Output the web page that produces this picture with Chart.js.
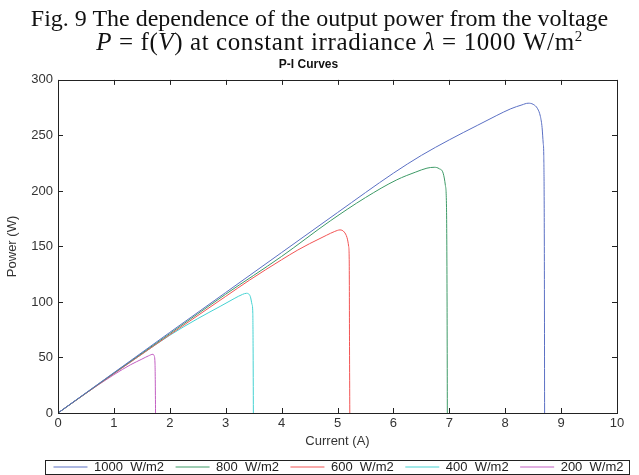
<!DOCTYPE html>
<html>
<head>
<meta charset="utf-8">
<script src="https://cdn.jsdelivr.net/npm/chart.js@4/dist/chart.umd.min.js"></script>
<style>
  body { margin: 0; background: #fff; }
  #wrap { position: relative; width: 639px; height: 475px; }
  #cap {
    position: absolute; top: 7px; left: 0; width: 639px;
    text-align: center; font: 24px "Liberation Serif", serif; line-height: 23px; color: #111;
  }
  #cap .l2 { display: block; font-size: 25px; letter-spacing: 0.6px; padding-left: 40px; }
  #cap .sup { font-size: 15px; position: relative; top: -9px; vertical-align: baseline; line-height: 0; }
  canvas { position: absolute; left: 0; top: 0; }
</style>
</head>
<body>
<div id="wrap">
  <canvas id="myChart" width="639" height="475"></canvas>
  <div id="cap">Fig. 9 The dependence of the output power from the voltage<span class="l2"><i>P</i> = f(<i>V</i>) at constant irradiance <i>λ</i> = 1000 W/m<span class="sup">2</span></span></div>
</div>
<script>
// values: current (A) and power (W) for each irradiance
let current1000 = [0, 1, 2, 3, 4, 5, 6, 6.5, 7, 7.5, 7.85, 8.1, 8.3, 8.41, 8.5, 8.58, 8.63, 8.66, 8.68, 8.69, 8.70, 8.705];
let power1000 = [0, 36.3, 72.6, 108.5, 144.5, 180.5, 216, 232, 246, 259, 268, 274, 277.5, 279, 278, 274, 267, 257, 243, 232, 150, 0];

let current800 = [0, 1, 2, 3, 4, 4.87, 5.5, 6.06, 6.4, 6.6, 6.73, 6.82, 6.89, 6.93, 6.95, 6.96, 6.965];
let power800 = [0, 36, 71.5, 107, 141, 173, 194, 210, 217, 220.5, 221.3, 220, 216, 205, 185, 100, 0];

let current600 = [0, 1, 2, 3, 3.43, 4, 4.29, 4.5, 4.8, 4.95, 5.045, 5.12, 5.17, 5.2, 5.21, 5.215, 5.22];
let power600 = [0, 35.5, 70.5, 105, 119.8, 138, 146.8, 152.5, 160, 163.5, 164.9, 163, 158, 150, 136, 60, 0];

let current400 = [0, 1, 1.5, 2, 2.5, 2.9, 3.15, 3.3, 3.37, 3.44, 3.47, 3.485, 3.49, 3.495];
let power400 = [0, 35.5, 53, 70, 85, 96, 103, 106.8, 107.8, 105, 98, 90, 60, 0];

let current200 = [0, 0.5, 1, 1.3, 1.5, 1.62, 1.70, 1.72, 1.735, 1.74, 1.745];
let power200 = [0, 17.8, 34.5, 43.5, 48.5, 51.5, 52.9, 51.5, 45, 30, 0];

let seriesNames = ["1000  W/m2", "800  W/m2", "600  W/m2", "400  W/m2", "200  W/m2"];
let seriesColors = ["#5b70c4", "#3d9a66", "#f25454", "#45d2d2", "#c25ec2"];
let currents = [current1000, current800, current600, current400, current200];
let powers = [power1000, power800, power600, power400, power200];

let xTicksMax = 10;
let yTicksMax = 300;

const font = "'Liberation Sans', Arial, sans-serif";
const ink = "#333";
const legendShift = 30;

// box around the plot, inward ticks on all four sides, box around the legend
const frame = {
  id: "frame",
  afterLayout(chart) {
    const lg = chart.legend;
    lg.left += legendShift;
    lg.right += legendShift;
  },
  afterDraw(chart) {
    const { ctx, chartArea: a, scales: { x, y } } = chart;
    const tl = 5;
    ctx.save();
    ctx.strokeStyle = "#222";
    ctx.lineWidth = 1;
    ctx.beginPath();
    x.ticks.forEach(t => {
      const px = Math.round(x.getPixelForValue(t.value)) + 0.5;
      ctx.moveTo(px, a.bottom); ctx.lineTo(px, a.bottom - tl);
      ctx.moveTo(px, a.top); ctx.lineTo(px, a.top + tl);
    });
    y.ticks.forEach(t => {
      const py = Math.round(y.getPixelForValue(t.value)) + 0.5;
      ctx.moveTo(a.left, py); ctx.lineTo(a.left + tl, py);
      ctx.moveTo(a.right, py); ctx.lineTo(a.right - tl, py);
    });
    ctx.stroke();
    ctx.strokeRect(Math.round(a.left) + 0.5, Math.round(a.top) + 0.5, Math.round(a.width), Math.round(a.height));

    const hb = chart.legend.legendHitBoxes;
    if (hb && hb.length) {
      const first = hb[0], last = hb[hb.length - 1];
      const l = Math.round(first.left) - 7.5;
      const r = Math.round(last.left + last.width) + 5.5;
      const cy = first.top + first.height / 2;
      ctx.strokeRect(l, Math.round(cy - 7) + 0.5, r - l, 14);
    }
    ctx.restore();
  }
};

new Chart("myChart", {
  type: "scatter",
  data: {
    datasets: seriesNames.map((name, i) => ({
      label: name,
      data: currents[i].map((c, j) => ({ x: c, y: powers[i][j] })),
      showLine: true,
      borderColor: seriesColors[i],
      backgroundColor: seriesColors[i],
      borderWidth: 1,
      pointRadius: 0,
      cubicInterpolationMode: "monotone"
    }))
  },
  options: {
    responsive: false,
    animation: false,
    layout: { padding: { left: 0, right: 22, top: 0, bottom: 0 } },
    plugins: {
      title: {
        display: true,
        text: "P-I Curves",
        color: "#111",
        font: { family: font, size: 12, weight: "bold" },
        padding: { top: 57.5, bottom: 8 }
      },
      legend: {
        position: "bottom",
        maxHeight: 26,
        labels: {
          usePointStyle: true,
          pointStyle: "line",
          pointStyleWidth: 34,
          padding: 11.5,
          color: "#222",
          font: { family: font, size: 13 }
        }
      },
      tooltip: { enabled: false }
    },
    scales: {
      x: {
        type: "linear",
        min: 0,
        max: xTicksMax,
        grid: { display: false, drawTicks: false },
        border: { display: false },
        ticks: { stepSize: 1, padding: 3, color: ink, font: { family: font, size: 13 } },
        title: { display: true, text: "Current (A)", color: ink, font: { family: font, size: 13 }, padding: { top: 0, bottom: 0 } },
        afterFit(s) { s.height = 36; }
      },
      y: {
        min: 0,
        max: yTicksMax,
        grid: { display: false, drawTicks: false },
        border: { display: false },
        ticks: { stepSize: 50, padding: 5, color: ink, font: { family: font, size: 13 } },
        title: { display: true, text: "Power (W)", color: ink, font: { family: font, size: 13 }, padding: { top: 5, bottom: 0 } },
        afterFit(s) { s.width = 58; }
      }
    }
  },
  plugins: [frame]
});
</script>
</body>
</html>
